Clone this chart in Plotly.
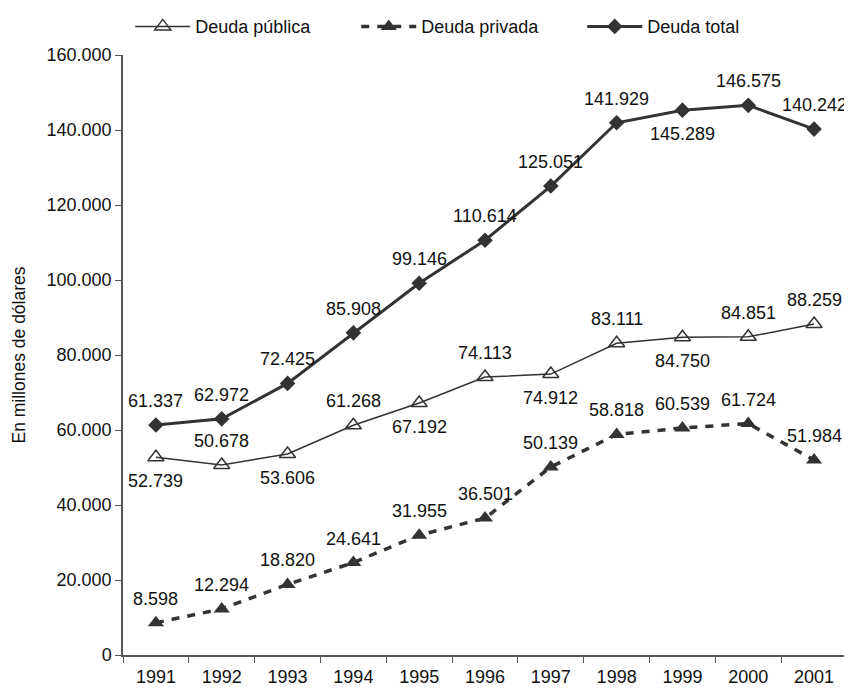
import plotly.graph_objects as go

years = ["1991", "1992", "1993", "1994", "1995", "1996", "1997", "1998", "1999", "2000", "2001"]
deuda_publica = [52739, 50678, 53606, 61268, 67192, 74113, 74912, 83111, 84750, 84851, 88259]
deuda_privada = [8598, 12294, 18820, 24641, 31955, 36501, 50139, 58818, 60539, 61724, 51984]
deuda_total = [61337, 62972, 72425, 85908, 99146, 110614, 125051, 141929, 145289, 146575, 140242]

# label placement: +1 above the point, -1 below
pos_publica = [-1, 1, -1, 1, -1, 1, -1, 1, -1, 1, 1]
pos_privada = [1] * 11
pos_total = [1] * 8 + [-1, 1, 1]

FONT = "Liberation Sans, Arial, sans-serif"
C = "#333333"
TS = 18


def fmt(v):
    return f"{v:,}".replace(",", ".")


fig = go.Figure()
fig.add_trace(go.Scatter(
    x=years, y=deuda_publica, name="Deuda pública", mode="lines+markers",
    line=dict(color=C, width=1.5),
    marker=dict(symbol="triangle-up-open", size=14, color=C, line=dict(width=1.5, color=C)),
))
fig.add_trace(go.Scatter(
    x=years, y=deuda_privada, name="Deuda privada", mode="lines+markers",
    line=dict(color=C, width=3.5, dash="8px,8px"),
    marker=dict(symbol="triangle-up", size=14, color=C),
))
fig.add_trace(go.Scatter(
    x=years, y=deuda_total, name="Deuda total", mode="lines+markers",
    line=dict(color=C, width=3),
    marker=dict(symbol="diamond", size=12, color=C),
))

annotations = []
for series, pos in ((deuda_publica, pos_publica), (deuda_privada, pos_privada), (deuda_total, pos_total)):
    for i, (v, p) in enumerate(zip(series, pos)):
        annotations.append(dict(
            x=i, y=v, xref="x", yref="y", text=fmt(v), showarrow=False,
            yshift=24 * p, font=dict(size=TS, color="#111111", family=FONT),
        ))

fig.update_layout(
    width=852, height=695,
    margin=dict(l=115, r=13, t=47, b=48, autoexpand=False),
    paper_bgcolor="white", plot_bgcolor="white",
    font=dict(family=FONT, size=TS, color="#111111"),
    showlegend=True,
    annotations=annotations,
    legend=dict(orientation="h", x=0.01, xanchor="left", y=1.078, yanchor="top",
                font=dict(size=TS), itemwidth=55, entrywidth=156, entrywidthmode="pixels",
                bgcolor="rgba(0,0,0,0)"),
    xaxis=dict(type="category", range=[-0.5, 10.5], showline=True, linecolor="#555555",
               linewidth=1.5, ticks="outside", ticklen=6, tickcolor="#555555",
               tickson="boundaries", showgrid=False, zeroline=False,
               ticklabelstandoff=5, tickfont=dict(size=TS)),
    yaxis=dict(range=[0, 160000], showline=True,
               tickvals=[0, 20000, 40000, 60000, 80000, 100000, 120000, 140000, 160000],
               ticktext=["0", "20.000", "40.000", "60.000", "80.000", "100.000",
                         "120.000", "140.000", "160.000"],
               linecolor="#555555", linewidth=1.5, ticks="outside", ticklen=6,
               tickcolor="#555555", showgrid=False, zeroline=False,
               tickfont=dict(size=TS),
               title=dict(text="En millones de dólares", font=dict(size=17.5), standoff=16)),
)
fig.write_html("out.html")
